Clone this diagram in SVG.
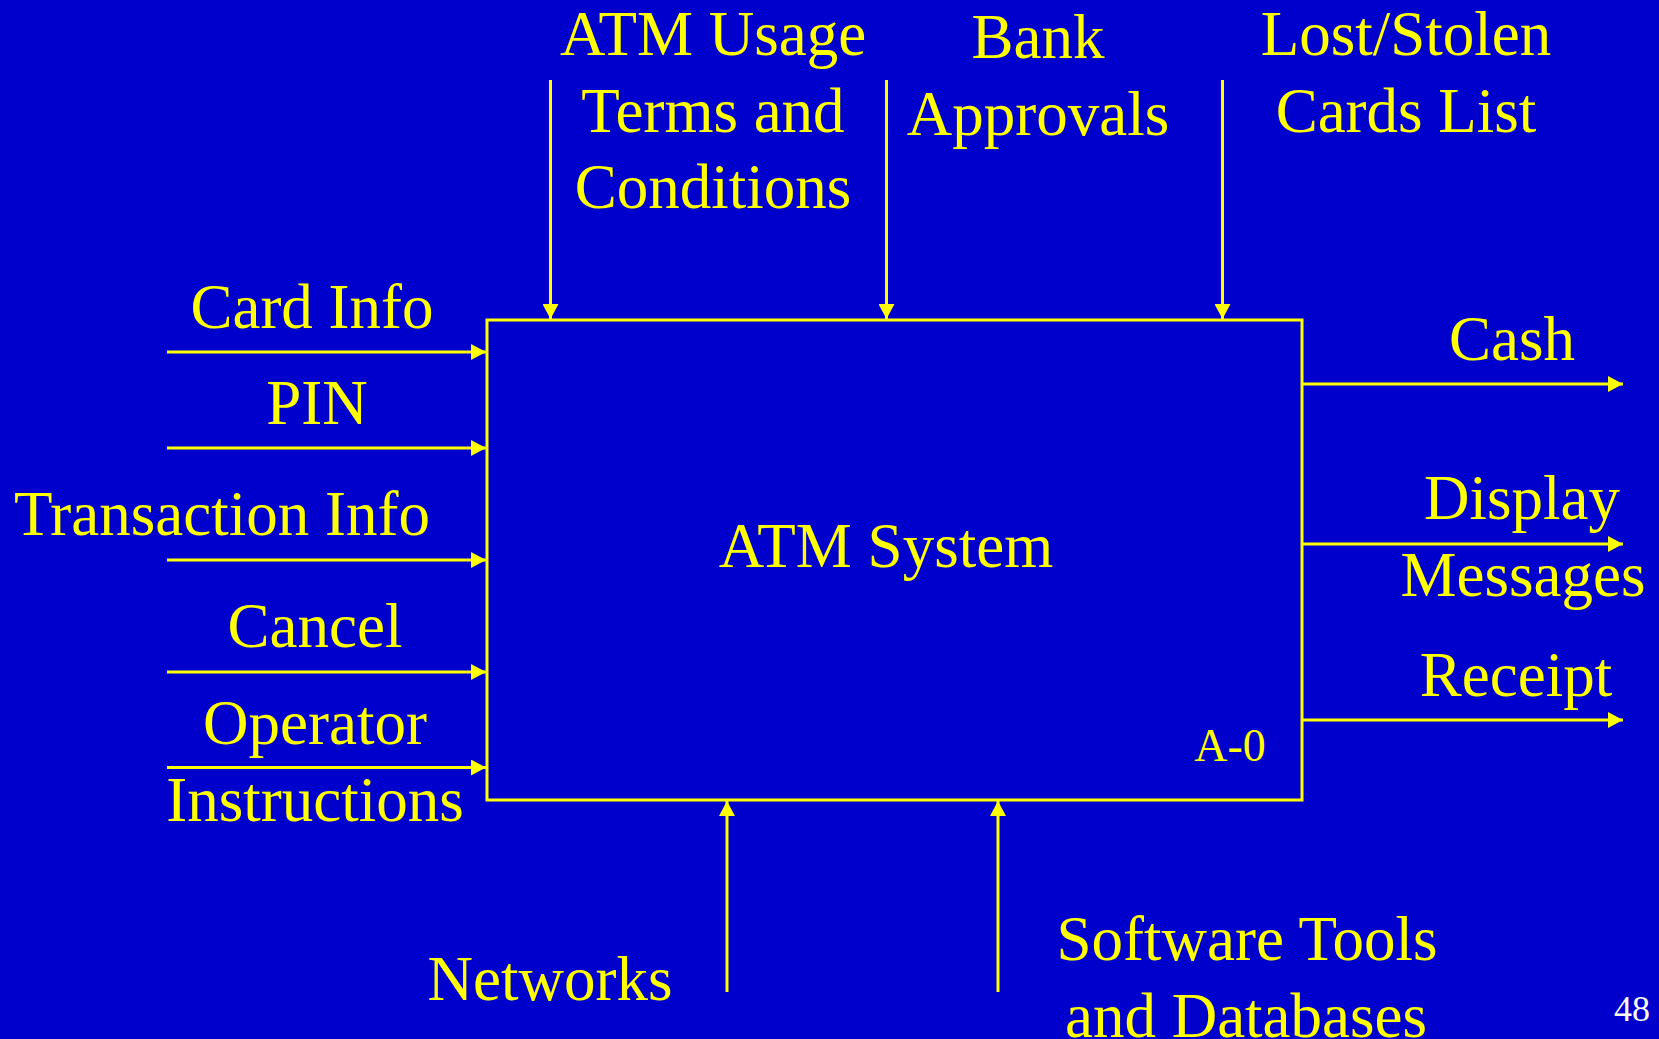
<svg xmlns="http://www.w3.org/2000/svg" width="1659" height="1039" viewBox="0 0 1659 1039">
  <style>
    .lbl { font-family: "Liberation Serif", "Times New Roman", serif; font-size: 63px; fill: #FFFF00; text-anchor: middle; }
    .conn { stroke: #FFFF00; stroke-width: 3; fill: none; marker-end: url(#arrow); }
    .box { stroke: #FFFF00; stroke-width: 3; fill: none; }
  </style>
  <defs>
    <marker id="arrow" markerUnits="userSpaceOnUse" markerWidth="16" markerHeight="16" refX="15" refY="8" orient="auto">
      <path d="M0,0 L15,8 L0,16 z" fill="#FFFF00"/>
    </marker>
  </defs>
  <rect x="0" y="0" width="1659" height="1039" fill="#0000CC"/>

  <g id="atm-system">
    <rect class="box" x="487" y="320" width="815" height="480"/>
    <text class="lbl" x="886" y="567" font-size="62">ATM System</text>
    <text class="lbl" x="1230" y="761" style="font-size:46px">A-0</text>
  </g>

  <g id="connectors">
    <line class="conn" x1="550.5" y1="80" x2="550.5" y2="319"/>
    <line class="conn" x1="886.5" y1="80" x2="886.5" y2="319"/>
    <line class="conn" x1="1222.5" y1="80" x2="1222.5" y2="319"/>
    <line class="conn" x1="167" y1="352" x2="486" y2="352"/>
    <line class="conn" x1="167" y1="448" x2="486" y2="448"/>
    <line class="conn" x1="167" y1="560" x2="486" y2="560"/>
    <line class="conn" x1="167" y1="672" x2="486" y2="672"/>
    <line class="conn" x1="167" y1="767.5" x2="486" y2="767.5"/>
    <line class="conn" x1="1303" y1="384" x2="1623" y2="384"/>
    <line class="conn" x1="1303" y1="544" x2="1623" y2="544"/>
    <line class="conn" x1="1303" y1="720" x2="1623" y2="720"/>
    <line class="conn" x1="727" y1="992" x2="727" y2="801"/>
    <line class="conn" x1="998" y1="992" x2="998" y2="801"/>
  </g>

  <g id="control-atm-usage">
    <text class="lbl" x="713" y="55">ATM Usage</text>
    <text class="lbl" x="713" y="132">Terms and</text>
    <text class="lbl" x="713" y="208">Conditions</text>
  </g>
  <g id="control-bank-approvals">
    <text class="lbl" x="1038" y="58">Bank</text>
    <text class="lbl" x="1038" y="135">Approvals</text>
  </g>
  <g id="control-lost-stolen">
    <text class="lbl" x="1406" y="55">Lost/Stolen</text>
    <text class="lbl" x="1406" y="132">Cards List</text>
  </g>

  <g id="input-card-info"><text class="lbl" x="312" y="328">Card Info</text></g>
  <g id="input-pin"><text class="lbl" x="317" y="424">PIN</text></g>
  <g id="input-transaction-info"><text class="lbl" x="222" y="535">Transaction Info</text></g>
  <g id="input-cancel"><text class="lbl" x="315" y="647">Cancel</text></g>
  <g id="input-operator-instructions">
    <text class="lbl" x="315" y="744">Operator</text>
    <text class="lbl" x="315" y="821">Instructions</text>
  </g>

  <g id="output-cash"><text class="lbl" x="1512" y="360">Cash</text></g>
  <g id="output-display-messages">
    <text class="lbl" x="1522" y="519">Display</text>
    <text class="lbl" x="1523" y="596">Messages</text>
  </g>
  <g id="output-receipt"><text class="lbl" x="1516" y="696">Receipt</text></g>

  <g id="mechanism-networks"><text class="lbl" x="550" y="1000">Networks</text></g>
  <g id="mechanism-software">
    <text class="lbl" x="1247" y="960">Software Tools</text>
    <text class="lbl" x="1246" y="1037">and Databases</text>
  </g>

  <text x="1632" y="1021" style="font-family:'Liberation Serif','Times New Roman',serif;font-size:36px;fill:#FFFFFF;text-anchor:middle">48</text>
</svg>
